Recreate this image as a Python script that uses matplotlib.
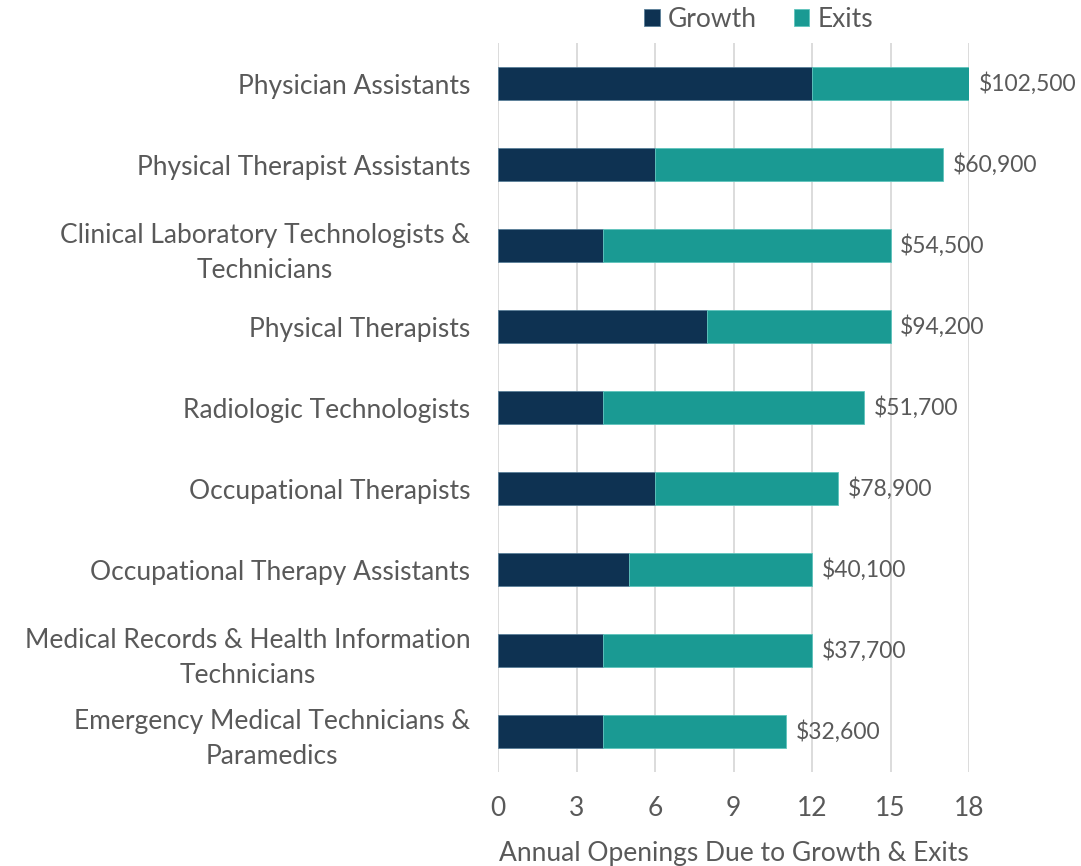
import matplotlib
matplotlib.use("Agg")
import matplotlib.pyplot as plt

categories = [
    "Physician Assistants",
    "Physical Therapist Assistants",
    "Clinical Laboratory Technologists &\nTechnicians",
    "Physical Therapists",
    "Radiologic Technologists",
    "Occupational Therapists",
    "Occupational Therapy Assistants",
    "Medical Records & Health Information\nTechnicians",
    "Emergency Medical Technicians &\nParamedics",
]
growth = [12, 6, 4, 8, 4, 6, 5, 4, 4]
exits = [6, 11, 11, 7, 10, 7, 7, 8, 7]
wages = ["$102,500", "$60,900", "$54,500", "$94,200", "$51,700",
         "$78,900", "$40,100", "$37,700", "$32,600"]
xticks = [0, 3, 6, 9, 12, 15, 18]

GREY = "#595959"
NAVY = "#0E3252"
TEAL = "#1A9A93"
plt.rcParams['font.family'] = ['Lato', 'DejaVu Sans']

fig = plt.figure(figsize=(10.81, 8.66), dpi=100)
ax = fig.add_axes([0.4607, 0.1085, 0.4357, 0.8418])

y = list(range(len(categories)))
h = 0.4
ax.barh(y, growth, height=h, color=NAVY, label="Growth", edgecolor="#5a7f99", linewidth=0.6)
ax.barh(y, exits, left=growth, height=h, color=TEAL, label="Exits", edgecolor="#5fc4bd", linewidth=0.6)
for i, (g, e, w) in enumerate(zip(growth, exits, wages)):
    ax.annotate(w, xy=(g + e, i), xytext=(7, 0), textcoords="offset points",
                va="center", ha="left", fontsize=16.5, color=GREY)

ax.set_ylim(len(categories) - 0.5, -0.5)
ax.set_xlim(0, 18)
ax.set_xticks(xticks)
ax.set_yticks(y)
ax.set_yticklabels(categories, fontsize=19, color=GREY, ha="right",
                   multialignment="center", linespacing=1.5)
ax.tick_params(axis="x", labelsize=19, colors=GREY, length=0, pad=17)
ax.tick_params(axis="y", length=0, pad=20)
ax.grid(axis="x", color="#D9D9D9", linewidth=1.3)
ax.set_axisbelow(True)
for s in ax.spines.values():
    s.set_visible(False)
ax.set_xlabel("Annual Openings Due to Growth & Exits", fontsize=19, color=GREY, labelpad=15)

leg = ax.legend(loc="lower center", bbox_to_anchor=(0.553, 1.008), ncol=2, frameon=False,
                fontsize=19, handlelength=0.6, handleheight=0.6, columnspacing=1.4,
                handletextpad=0.3, borderaxespad=0, borderpad=0.2)
for t in leg.get_texts():
    t.set_color(GREY)

fig.savefig("out.png", dpi=100)
